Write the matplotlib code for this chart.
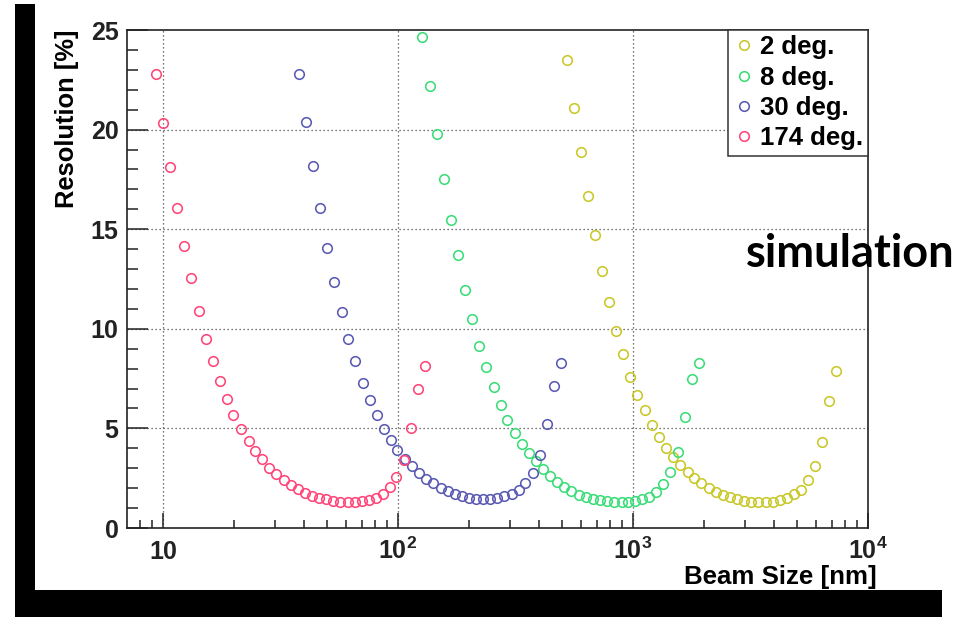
import matplotlib
matplotlib.use("Agg")
import matplotlib.pyplot as plt
from matplotlib.lines import Line2D
from matplotlib.patches import Rectangle
from matplotlib.ticker import FixedLocator, NullFormatter, FixedFormatter

plt.rcParams['font.family'] = ['Liberation Sans', 'DejaVu Sans']
plt.rcParams['mathtext.fontset'] = 'custom'
plt.rcParams['mathtext.rm'] = 'Liberation Sans:bold'
plt.rcParams['mathtext.bf'] = 'Liberation Sans:bold'
plt.rcParams['mathtext.it'] = 'Liberation Sans:bold'

# ---------------- data ----------------
series_labels = ["2 deg.", "8 deg.", "30 deg.", "174 deg."]
series_colors = ["#c8c828", "#3cdc78", "#5a5ab4", "#ff4678"]

x_2deg = [522.3, 559.4, 599.1, 641.6, 689.0, 741.1, 790.6, 846.8, 910.2, 974.8,
          1044, 1121, 1201, 1290, 1381, 1480, 1591, 1709, 1825, 1955,
          2099, 2248, 2415, 2587, 2771, 2979, 3190, 3417, 3670, 3930,
          4210, 4508, 4829, 5172, 5539, 5950, 6353, 6805, 7309]
y_2deg = [23.51, 21.08, 18.89, 16.68, 14.70, 12.88, 11.34, 9.91, 8.71, 7.58,
          6.67, 5.90, 5.16, 4.56, 4.02, 3.55, 3.15, 2.80, 2.51, 2.25,
          2.03, 1.83, 1.68, 1.54, 1.46, 1.38, 1.33, 1.29, 1.29, 1.33,
          1.39, 1.53, 1.69, 1.91, 2.40, 3.10, 4.30, 6.38, 7.87]

x_8deg = [127.0, 136.4, 146.1, 156.9, 168.1, 180.0, 192.8, 206.9, 221.6, 237.3,
          255.5, 274.4, 292.1, 313.7, 338.3, 360.9, 385.5, 414.0, 445.2, 475.0,
          508.7, 547.0, 587.4, 631.0, 675.8, 726.5, 778.2, 833.5, 895.1, 955.8,
          1022, 1092, 1174, 1253, 1342, 1443, 1550, 1665, 1778, 1910]
y_8deg = [24.63, 22.20, 19.76, 17.50, 15.47, 13.68, 11.95, 10.47, 9.16, 8.07,
          7.07, 6.18, 5.42, 4.77, 4.22, 3.74, 3.35, 2.98, 2.60, 2.31,
          2.06, 1.86, 1.68, 1.54, 1.46, 1.41, 1.34, 1.33, 1.33, 1.33,
          1.34, 1.44, 1.58, 1.81, 2.21, 2.81, 3.80, 5.59, 7.47, 8.27]

x_30deg = [37.9, 40.6, 43.5, 46.7, 50.1, 53.6, 57.6, 61.5, 65.9, 71.0,
           76.0, 81.2, 87.2, 93.4, 99.4, 107.1, 114.7, 123.3, 132.1, 141.5,
           151.9, 162.7, 174.8, 187.3, 200.5, 214.8, 230.9, 247.3, 264.9, 283.7,
           304.7, 326.3, 348.4, 374.3, 400.9, 430.5, 459.7, 493.9]
y_30deg = [22.77, 20.39, 18.18, 16.04, 14.08, 12.36, 10.83, 9.49, 8.36, 7.30,
           6.43, 5.65, 4.97, 4.42, 3.90, 3.45, 3.10, 2.75, 2.47, 2.25,
           2.03, 1.85, 1.71, 1.61, 1.53, 1.48, 1.46, 1.48, 1.51, 1.59,
           1.71, 1.93, 2.25, 2.75, 3.64, 5.21, 7.15, 8.29]

x_174deg = [9.34, 10.04, 10.71, 11.51, 12.28, 13.21, 14.23, 15.19, 16.27, 17.55,
            18.72, 19.93, 21.47, 23.16, 24.63, 26.38, 28.37, 30.38, 32.63, 34.95,
            37.43, 40.2, 43.05, 46.1, 49.4, 53.1, 56.9, 61.1, 65.4, 70.1,
            75.0, 80.6, 86.3, 92.5, 98.4, 105.8, 113.3, 121.7, 130.8]
y_174deg = [22.77, 20.34, 18.13, 16.04, 14.15, 12.53, 10.88, 9.48, 8.37, 7.37,
            6.48, 5.66, 4.96, 4.39, 3.89, 3.45, 3.03, 2.71, 2.41, 2.14,
            1.94, 1.78, 1.63, 1.53, 1.44, 1.38, 1.33, 1.31, 1.31, 1.36,
            1.41, 1.51, 1.73, 2.08, 2.56, 3.43, 5.00, 7.00, 8.14]

xs = [x_2deg, x_8deg, x_30deg, x_174deg]
ys = [y_2deg, y_8deg, y_30deg, y_174deg]

x_major = [10, 100, 1000, 10000]
x_major_labels = [r'$10$', r'$10^{2}$', r'$10^{3}$', r'$10^{4}$']
y_major = [0, 5, 10, 15, 20, 25]
x_label = "Beam Size [nm]"
y_label = "Resolution [%]"
note_text = "simulation"

# ---------------- figure ----------------
W, H = 959, 617
fig = plt.figure(figsize=(W / 100, H / 100), dpi=100)
fig.patch.set_facecolor('white')

L, R, T, B = 127, 868, 30, 528
ax = fig.add_axes([L / W, 1 - B / H, (R - L) / W, (B - T) / H])

ms = 6.9
mew = 1.15
for x, y, c in zip(xs, ys, series_colors):
    ax.plot(x, y, ls='none', marker='o', mfc='none', mec=c, ms=ms, mew=mew, zorder=3)

ax.set_xscale('log')
ax.set_xlim(7.03, 10000)
ax.set_ylim(0, 25)

ax.xaxis.set_major_locator(FixedLocator(x_major))
ax.xaxis.set_major_formatter(FixedFormatter(x_major_labels))
minors = [m * 10 ** e for e in range(0, 4) for m in range(2, 10)]
ax.xaxis.set_minor_locator(FixedLocator(minors))
ax.xaxis.set_minor_formatter(NullFormatter())
ax.yaxis.set_major_locator(FixedLocator(y_major))
ax.yaxis.set_minor_locator(FixedLocator([v for v in range(0, 26) if v % 5]))

ax.tick_params(axis='both', which='both', direction='in', colors='#222222', width=1.1,
               top=False, right=False)
ax.tick_params(axis='x', which='major', length=10.8, pad=22, labelsize=18)
ax.tick_params(axis='x', which='minor', length=5.8)
ax.tick_params(axis='y', which='major', length=15, pad=6, labelsize=18)
ax.tick_params(axis='y', which='minor', length=7.9)
for lab in ax.get_yticklabels():
    lab.set_fontweight('bold')
for lab in ax.get_xticklabels():
    lab.set_verticalalignment('baseline')

for sp in ax.spines.values():
    sp.set_color('#222222')
    sp.set_linewidth(1.2)

# grid (ROOT-like dotted) at inner major ticks
for xv in x_major[:-1]:
    ax.axvline(xv, color='#444444', lw=0.9, ls=(0, (1, 2.2)), zorder=1)
for yv in y_major[1:-1]:
    ax.axhline(yv, color='#444444', lw=0.9, ls=(0, (1, 2.2)), zorder=1)

ax.set_xlabel(x_label, fontsize=18.6, fontweight='bold', loc='right')
ax.xaxis.set_label_coords((877 - L) / (R - L), (B - 565) / (B - T))
ax.set_ylabel(y_label, fontsize=18.4, fontweight='bold', loc='top')
ax.yaxis.set_label_coords((79 - L) / (R - L), 1.0)

handles = [Line2D([], [], ls='none', marker='o', mfc='none', mec=c, ms=ms, mew=mew)
           for c in series_colors]
leg = ax.legend(handles, series_labels, loc='upper right', bbox_to_anchor=(1.0, 1.0),
                borderaxespad=0, frameon=True, fancybox=False, framealpha=1,
                edgecolor='#333333', prop={'weight': 'bold', 'size': 18.5},
                handlelength=0.9, handletextpad=0.15, borderpad=0.2,
                labelspacing=0.25, numpoints=1)
leg.get_frame().set_linewidth(1.1)
leg.set_zorder(5)

fig.text(746 / W, 1 - 267 / H, note_text, fontsize=32.5, fontweight='bold',
         family=['Lato', 'DejaVu Sans'], ha='left', va='baseline', color='black', zorder=10)

# black frame bars of the slide
fig.patches.append(Rectangle((15 / W, 0), 20 / W, (H - 4) / H, transform=fig.transFigure,
                             facecolor='black', edgecolor='none', zorder=20))
fig.patches.append(Rectangle((15 / W, 0), 927 / W, 27 / H, transform=fig.transFigure,
                             facecolor='black', edgecolor='none', zorder=20))

fig.savefig("out.png", dpi=100)
